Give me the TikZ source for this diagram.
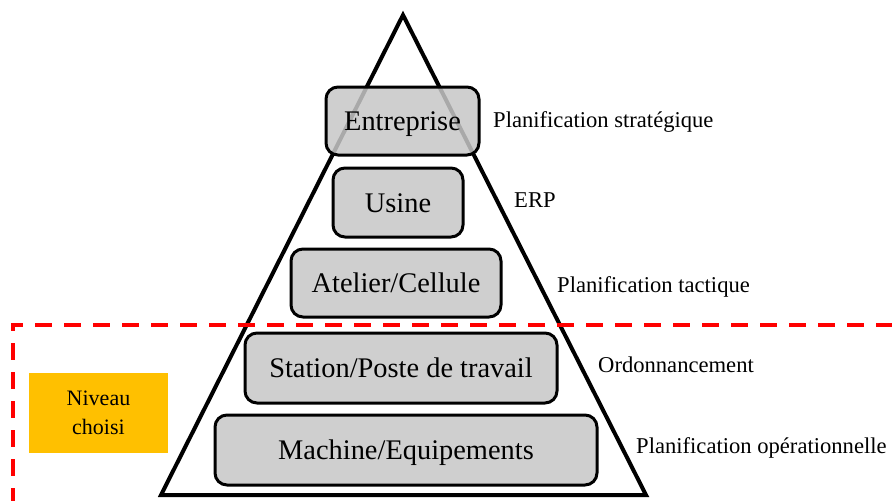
\documentclass[tikz,border=0pt]{standalone}
\usepackage{fontspec}
\setmainfont{Liberation Serif}
\begin{document}
\begin{tikzpicture}[x=1pt,y=-1pt,
  levelbox/.style={draw=black, line width=3pt, rounded corners=12pt,
    fill=black!22, fill opacity=0.85, draw opacity=1, text opacity=1,
    font=\fontsize{28.4}{32}\selectfont, text height=19pt, text depth=0pt,
    inner sep=0pt, outer sep=0pt},
  sidelabel/.style={anchor=base west, inner sep=0pt, font=\fontsize{22.6}{26}\selectfont},
  choice/.style={fill=choicecol, inner sep=0pt,
    align=center, font=\fontsize{22}{29}\selectfont},
  reddash/.style={draw=red, line width=4pt, dash pattern=on 17pt off 12pt}]
\definecolor{choicecol}{HTML}{FFC000}
\useasboundingbox (0,0) rectangle (892,501);
% pyramid
\coordinate (apex) at (403,15);
\coordinate (bl) at (161,495);
\coordinate (br) at (646,495);
\draw[line width=4pt, line join=miter] (apex) -- (br) -- (bl) -- cycle;
% level boxes
\node[levelbox, minimum width=153pt, minimum height=68pt] (ent) at (402.5,121) {Entreprise};
\node[levelbox, minimum width=130pt, minimum height=69pt] (usi) at (398,202.5) {Usine};
\node[levelbox, minimum width=210pt, minimum height=68pt] (ate) at (396,283) {Atelier/Cellule};
\node[levelbox, minimum width=312pt, minimum height=70pt] (sta) at (401,368) {Station/Poste de travail};
\node[levelbox, minimum width=382pt, minimum height=70pt] (mac) at (406,450) {Machine/Equipements};
% side labels
\node[sidelabel] (l1) at (493,127) {Planification stratégique};
\node[sidelabel] (l2) at (514,207) {ERP};
\node[sidelabel] (l3) at (557,292) {Planification tactique};
\node[sidelabel] (l4) at (598,372) {Ordonnancement};
\node[sidelabel] (l5) at (636,453) {Planification opérationnelle};
% chosen level
\coordinate (corner) at (13,325);
\coordinate (rightend) at (892,325);
\coordinate (bottomend) at (13,501);
\draw[reddash, dash phase=5pt] ([xshift=-2pt]corner) -- (rightend);
\draw[reddash, dash phase=11pt] (corner) -- (bottomend);
\node[choice, minimum width=139pt, minimum height=80pt] (niv) at (98.5,413) {Niveau\\choisi};
\end{tikzpicture}
\end{document}
